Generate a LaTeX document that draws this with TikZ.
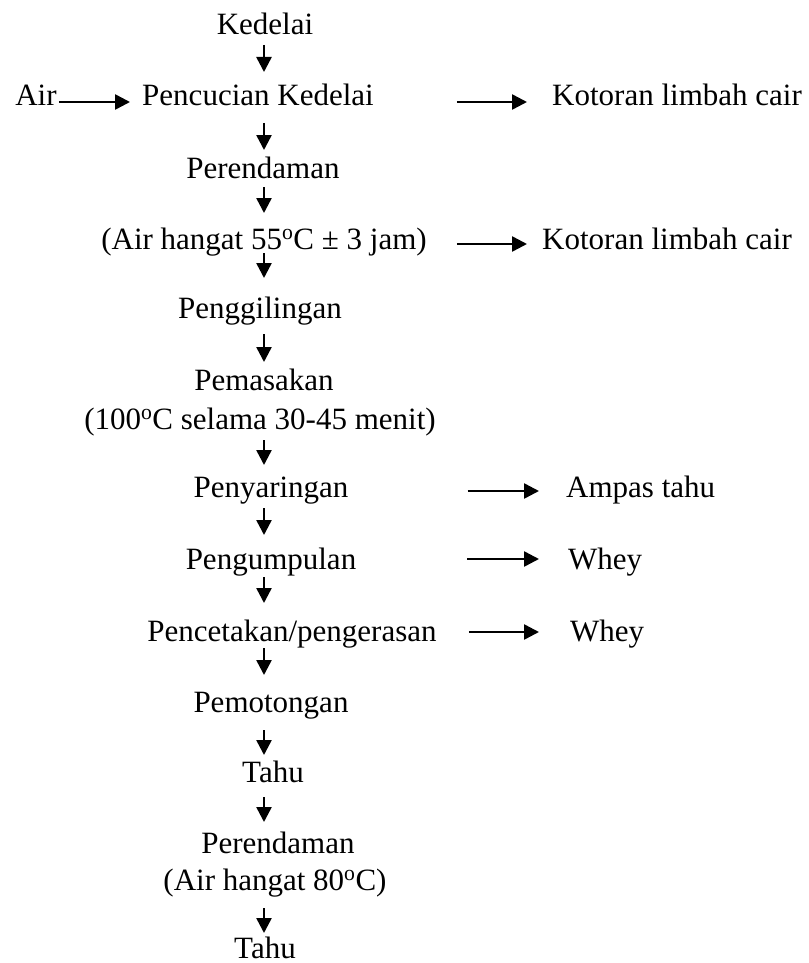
\documentclass[tikz,border=0pt]{standalone}
\usepackage{fontspec}
\setmainfont{Liberation Serif}
\usetikzlibrary{arrows.meta,calc}
\begin{document}
\begin{tikzpicture}[x=1pt,y=-1pt,
  lbl/.style={anchor=base, inner sep=0pt, font=\fontsize{31}{37}\selectfont},
  lblw/.style={anchor=base west, inner sep=0pt, font=\fontsize{31}{37}\selectfont},
  arr/.style={line width=2.5pt, -{Triangle[length=15pt,width=15pt]}}]
\useasboundingbox (0,0) rectangle (808,963);
\coordinate (ax) at (264,0);
% main column
\node[lbl] (kedelai) at (265,35) {Kedelai};
\node[lbl] (air) at (36,106) {Air};
\node[lbl] (pencucian) at (258,106) {Pencucian Kedelai};
\node[lblw] (k1) at (552,106) {Kotoran limbah cair};
\node[lbl] (rendam) at (263,178) {Perendaman};
\node[lbl] (hangat) at (264,249) {(Air hangat 55\textsuperscript{o}C ± 3 jam)};
\node[lblw] (k2) at (542,249) {Kotoran limbah cair};
\node[lbl] (giling) at (260,318) {Penggilingan};
\node[lbl] (masak) at (264,390) {Pemasakan};
\node[lbl] (suhu) at (260,429) {(100\textsuperscript{o}C selama 30-45 menit)};
\node[lbl] (saring) at (271,497) {Penyaringan};
\node[lblw] (ampas) at (566,497) {Ampas tahu};
\node[lbl] (kumpul) at (271,569) {Pengumpulan};
\node[lblw] (whey1) at (568,569) {Whey};
\node[lbl] (cetak) at (292,641) {Pencetakan/pengerasan};
\node[lblw] (whey2) at (570,641) {Whey};
\node[lbl] (potong) at (271,712) {Pemotongan};
\node[lbl] (tahu1) at (273,782) {Tahu};
\node[lbl] (rendam2) at (278,853) {Perendaman};
\node[lbl] (hangat2) at (275,890) {(Air hangat 80\textsuperscript{o}C)};
\node[lbl] (tahu2) at (265,958) {Tahu};
% vertical arrows
\draw[arr] ($(kedelai.base -| ax)+(0,10)$) -- ($(pencucian.base -| ax)+(0,-34)$);
\draw[arr] ($(pencucian.base -| ax)+(0,17)$) -- ($(rendam.base -| ax)+(0,-28)$);
\draw[arr] ($(rendam.base -| ax)+(0,9)$) -- ($(hangat.base -| ax)+(0,-36)$);
\draw[arr] ($(hangat.base -| ax)+(0,4)$) -- ($(giling.base -| ax)+(0,-40)$);
\draw[arr] ($(giling.base -| ax)+(0,16)$) -- ($(masak.base -| ax)+(0,-28)$);
\draw[arr] ($(suhu.base -| ax)+(0,11)$) -- ($(saring.base -| ax)+(0,-32)$);
\draw[arr] ($(saring.base -| ax)+(0,11)$) -- ($(kumpul.base -| ax)+(0,-34)$);
\draw[arr] ($(kumpul.base -| ax)+(0,8)$) -- ($(cetak.base -| ax)+(0,-38)$);
\draw[arr] ($(cetak.base -| ax)+(0,7)$) -- ($(potong.base -| ax)+(0,-37)$);
\draw[arr] ($(potong.base -| ax)+(0,18)$) -- ($(tahu1.base -| ax)+(0,-27)$);
\draw[arr] ($(tahu1.base -| ax)+(0,15)$) -- ($(rendam2.base -| ax)+(0,-31)$);
\draw[arr] ($(hangat2.base -| ax)+(0,18)$) -- ($(tahu2.base -| ax)+(0,-25)$);
% horizontal arrows
\draw[arr] ($(air.base east)+(2,-4)$) -- ($(pencucian.base west)+(-12,-4)$);
\draw[arr] ($(pencucian.base east)+(83,-4)$) -- ($(k1.base west)+(-25,-4)$);
\draw[arr] ($(hangat.base east)+(30,-5)$) -- ($(k2.base west)+(-15,-5)$);
\draw[arr] ($(saring.base east)+(119,-6)$) -- ($(ampas.base west)+(-27,-6)$);
\draw[arr] ($(kumpul.base east)+(111,-10)$) -- ($(whey1.base west)+(-29,-10)$);
\draw[arr] ($(cetak.base east)+(32,-9)$) -- ($(whey2.base west)+(-31,-9)$);
\end{tikzpicture}
\end{document}
